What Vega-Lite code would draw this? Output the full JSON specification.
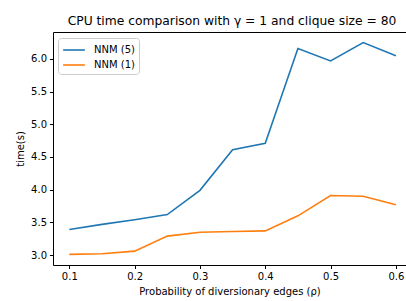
{
  "$schema": "https://vega.github.io/schema/vega-lite/v6.json",
  "autosize": "none",
  "width": 353,
  "height": 233,
  "padding": {"left": 53, "top": 32, "right": 0, "bottom": 36},
  "background": "white",
  "title": {"text": "CPU time comparison with γ = 1 and clique size = 80", "anchor": "middle", "dx": 2.5, "offset": 5, "fontSize": 12.3, "fontWeight": "normal", "font": "DejaVu Sans", "color": "#000"},
  "config": {
    "view": {"stroke": null},
    "font": "DejaVu Sans",
    "axis": {"labelFont": "DejaVu Sans", "titleFont": "DejaVu Sans", "labelFontSize": 10, "titleFontSize": 10, "titleFontWeight": "normal", "labelColor": "#000", "titleColor": "#000", "domainColor": "#000", "tickColor": "#000", "tickSize": 3.5, "grid": false, "labelPadding": 3, "labelOverlap": false}
  },
  "data": {"values": [
    {"p": 0.1, "time": 3.39, "method": "NNM (5)"},
    {"p": 0.15, "time": 3.47, "method": "NNM (5)"},
    {"p": 0.2, "time": 3.54, "method": "NNM (5)"},
    {"p": 0.25, "time": 3.62, "method": "NNM (5)"},
    {"p": 0.3, "time": 3.99, "method": "NNM (5)"},
    {"p": 0.35, "time": 4.61, "method": "NNM (5)"},
    {"p": 0.4, "time": 4.71, "method": "NNM (5)"},
    {"p": 0.45, "time": 6.16, "method": "NNM (5)"},
    {"p": 0.5, "time": 5.97, "method": "NNM (5)"},
    {"p": 0.55, "time": 6.25, "method": "NNM (5)"},
    {"p": 0.6, "time": 6.05, "method": "NNM (5)"},
    {"p": 0.1, "time": 3.01, "method": "NNM (1)"},
    {"p": 0.15, "time": 3.02, "method": "NNM (1)"},
    {"p": 0.2, "time": 3.06, "method": "NNM (1)"},
    {"p": 0.25, "time": 3.29, "method": "NNM (1)"},
    {"p": 0.3, "time": 3.35, "method": "NNM (1)"},
    {"p": 0.35, "time": 3.36, "method": "NNM (1)"},
    {"p": 0.4, "time": 3.37, "method": "NNM (1)"},
    {"p": 0.45, "time": 3.60, "method": "NNM (1)"},
    {"p": 0.5, "time": 3.91, "method": "NNM (1)"},
    {"p": 0.55, "time": 3.90, "method": "NNM (1)"},
    {"p": 0.6, "time": 3.77, "method": "NNM (1)"}
  ]},
  "encoding": {
    "y": {"field": "time", "type": "quantitative", "scale": {"domain": [2.848, 6.412], "nice": false, "zero": false}, "axis": {"values": [3.0, 3.5, 4.0, 4.5, 5.0, 5.5, 6.0], "format": ".1f", "title": "time(s)", "titlePadding": 5, "labelOverlap": false}},
    "detail": {"field": "method"}
  },
  "layer": [
    {
      "mark": {"type": "line", "strokeWidth": 1.6, "clip": true},
      "encoding": {
        "x": {"field": "p", "type": "quantitative", "scale": {"domain": [0.075, 0.6155], "nice": false, "zero": false}, "axis": {"orient": "bottom", "values": [0.1, 0.2, 0.3, 0.4, 0.5, 0.6], "format": ".1f", "title": "Probability of diversionary edges (ρ)", "titlePadding": 5}},
        "color": {"field": "method", "type": "nominal", "scale": {"domain": ["NNM (5)", "NNM (1)"], "range": ["#1f77b4", "#ff7f0e"]}, "legend": {"title": null, "orient": "none", "legendX": 5, "legendY": 6, "symbolType": "M-1.55,0H1.55", "symbolSize": 196, "symbolStrokeWidth": 1.6, "symbolOffset": 4, "rowPadding": 2, "labelFontSize": 10, "labelFont": "DejaVu Sans", "labelColor": "#000", "labelOffset": 12, "padding": 4, "strokeColor": "#cccccc", "fillColor": "rgba(255,255,255,0.8)", "cornerRadius": 3}}
      }
    },
    {
      "mark": {"type": "line", "strokeOpacity": 0},
      "encoding": {
        "x": {"field": "p", "type": "quantitative", "axis": {"orient": "top", "labels": false, "ticks": false, "title": null, "domain": true}}
      }
    }
  ],
  "resolve": {"axis": {"x": "independent"}}
}
